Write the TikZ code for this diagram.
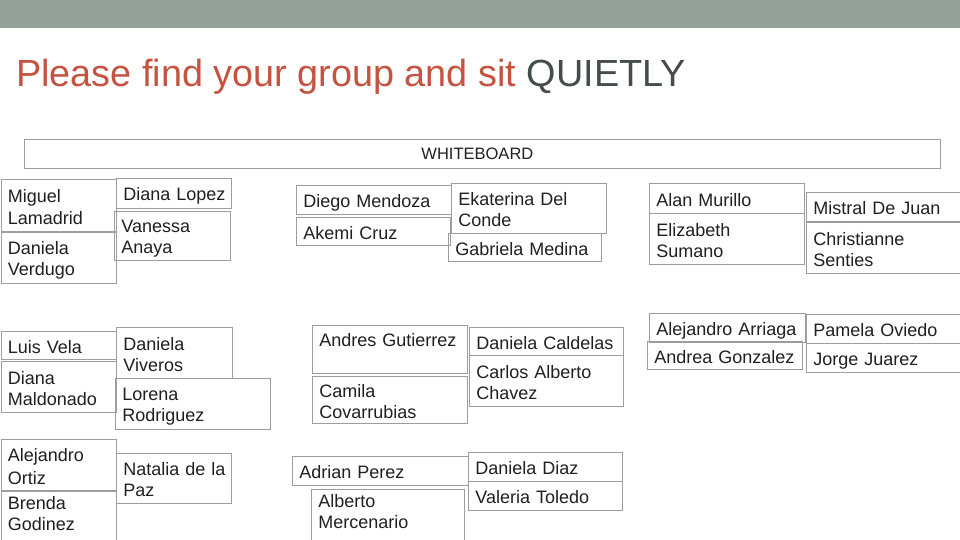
\documentclass[tikz,border=0pt]{standalone}
\usepackage{xcolor}
\usepackage{fontspec}
\setmainfont{Liberation Sans}
\usepackage{tikz}
\usetikzlibrary{positioning}

\definecolor{bargray}{RGB}{148,162,153}
\definecolor{titlered}{RGB}{196,84,64}
\definecolor{quietgray}{RGB}{68,76,76}
\definecolor{boxgray}{RGB}{155,158,155}
\definecolor{namecol}{RGB}{32,32,32}

\newcommand{\namefont}{\fontsize{18}{21}\selectfont}
\newcommand{\namestrut}{\rule[-2pt]{0pt}{20pt}}

\tikzset{
  seat/.style={draw=boxgray,line width=0.8pt,shape=rectangle,anchor=north west,
    inner xsep=0pt,inner ysep=0pt,align=left,font=\namefont,text=namecol,
    execute at begin node={\leftskip=7pt\relax\namestrut},execute at end node=\namestrut},
  board/.style={draw=boxgray,line width=0.8pt,shape=rectangle,anchor=north west,
    inner sep=0pt,font=\fontsize{16.5}{19}\selectfont,text=namecol}
}

\begin{document}
\begin{tikzpicture}[x=1pt,y=-1pt]
\useasboundingbox (0,0) rectangle (960,540);
\fill [white] (0,0) rectangle (960,540);
\fill [bargray] (0,0) rectangle (960,28);

\node (title) at (16,87) [anchor=base west,inner sep=0pt,text=titlered,
  font=\fontsize{37.8}{44}\selectfont] {Please find your group and sit \textcolor{quietgray}{QUIETLY}};
\node (whiteboard) at (24,139) [board,minimum width=916pt,minimum height=29pt] {WHITEBOARD\hspace*{10pt}};

\node (miguel) at (0.5,179) [seat,text width=115pt,minimum height=52pt] {Miguel\\Lamadrid};
\node (danielav) at (0.5,232) [seat,text width=115pt,minimum height=51pt] {Daniela\\Verdugo};
\node (dianal) at (116,178) [seat,text width=115pt,minimum height=30pt] {Diana Lopez};
\node (vanessa) at (114,211) [seat,text width=116pt,minimum height=49pt] {Vanessa\\Anaya};

\node (diego) at (296,185) [seat,text width=155pt,minimum height=29pt] {Diego Mendoza};
\node (akemi) at (296,217) [seat,text width=154pt,minimum height=28pt] {Akemi Cruz};
\node (ekaterina) at (451,183) [seat,text width=155pt,minimum height=50pt] {Ekaterina Del\\Conde};
\node (gabriela) at (448,233) [seat,text width=153pt,minimum height=28pt] {Gabriela Medina};

\node (alan) at (649,183) [seat,text width=155pt,minimum height=30pt] {Alan Murillo};
\node (elizabeth) at (649,213) [seat,text width=155pt,minimum height=51pt] {Elizabeth\\Sumano};
\node (mistral) at (806,192) [seat,text width=160pt,minimum height=29pt] {Mistral De Juan};
\node (christianne) at (806,222) [seat,text width=160pt,minimum height=51pt] {Christianne\\Senties};

\node (luis) at (0.5,331) [seat,text width=115.5pt,minimum height=28pt] {Luis Vela};
\node (dianam) at (0.5,361) [seat,text width=115.5pt,minimum height=51pt] {Diana\\Maldonado};
\node (danielavi) at (116,327) [seat,text width=116pt,minimum height=51pt] {Daniela\\Viveros};
\node (lorena) at (115,378) [seat,text width=155pt,minimum height=51pt] {Lorena\\Rodriguez};

\node (andres) at (312,325) [seat,text width=155pt,minimum height=48pt] {Andres Gutierrez\\};
\node (camila) at (312,376) [seat,text width=155pt,minimum height=47pt] {Camila\\Covarrubias};
\node (danielac) at (469,327) [seat,text width=154pt,minimum height=28pt] {Daniela Caldelas};
\node (carlos) at (469,355) [seat,text width=154pt,minimum height=51pt] {Carlos Alberto\\Chavez};

\node (alejandroa) at (649,313) [seat,text width=156pt,minimum height=29pt] {Alejandro Arriaga};
\node (andrea) at (647,341) [seat,text width=155pt,minimum height=28pt] {Andrea Gonzalez};
\node (pamela) at (806,314) [seat,text width=160pt,minimum height=29pt] {Pamela Oviedo};
\node (jorge) at (806,343) [seat,text width=160pt,minimum height=29pt] {Jorge Juarez};

\node (alejandroo) at (0.5,439) [seat,text width=115.5pt,minimum height=51pt] {Alejandro\\Ortiz};
\node (brenda) at (0.5,491) [seat,text width=115.5pt,minimum height=60pt] {Brenda\\Godinez\\};
\node (natalia) at (116,453) [seat,text width=115pt,minimum height=50pt] {Natalia de la\\Paz};

\node (adrian) at (292,456) [seat,text width=176pt,minimum height=29pt] {Adrian Perez};
\node (alberto) at (311,489) [seat,text width=153pt,minimum height=60pt] {Alberto\\Mercenario\\};
\node (danielad) at (468,452) [seat,text width=154pt,minimum height=29pt] {Daniela Diaz};
\node (valeria) at (468,481) [seat,text width=154pt,minimum height=29pt] {Valeria Toledo};
\end{tikzpicture}
\end{document}
